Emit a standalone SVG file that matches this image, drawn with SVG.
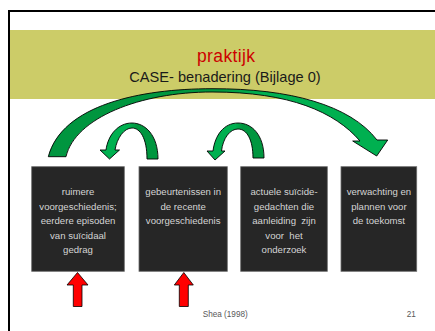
<svg xmlns="http://www.w3.org/2000/svg" width="435" height="331" viewBox="0 0 435 331">
<defs>
<style>
.frame{fill:none;stroke:#000;stroke-width:2}
.band{fill:#cccc68}
.box{fill:#262626;stroke:#6b6b6b;stroke-width:0.8}
.bt{font-family:"Liberation Sans",Arial,sans-serif;font-size:9.6px;fill:#d4d4d4;text-anchor:middle;white-space:pre}
.title{font-family:"Liberation Sans",Arial,sans-serif;text-anchor:middle}
.foot{font-family:"Liberation Sans",Arial,sans-serif;font-size:8.2px;fill:#595959}
.green{stroke:#000;stroke-width:0.9;stroke-linejoin:miter}
.red{fill:#ff0000;stroke:#000;stroke-width:0.8}
</style>
<linearGradient id="gBig" gradientUnits="userSpaceOnUse" x1="48" y1="0" x2="388" y2="0">
<stop offset="0" stop-color="#00953f"/>
<stop offset="0.5" stop-color="#00983f"/>
<stop offset="0.62" stop-color="#00b050"/>
<stop offset="1" stop-color="#00b050"/>
</linearGradient>
<linearGradient id="gS1" gradientUnits="userSpaceOnUse" x1="100" y1="0" x2="158" y2="0">
<stop offset="0" stop-color="#00b050"/>
<stop offset="0.5" stop-color="#00b050"/>
<stop offset="0.62" stop-color="#00963f"/>
<stop offset="1" stop-color="#00963f"/>
</linearGradient>
<linearGradient id="gS2" gradientUnits="userSpaceOnUse" x1="207" y1="0" x2="264" y2="0">
<stop offset="0" stop-color="#00b050"/>
<stop offset="0.5" stop-color="#00b050"/>
<stop offset="0.62" stop-color="#00963f"/>
<stop offset="1" stop-color="#00963f"/>
</linearGradient>
</defs>

<rect class="frame" x="9" y="11" width="440" height="340"/>
<rect class="band" x="10" y="30" width="425" height="69"/>
<g id="title">
<text class="title" x="226" y="61.7" font-size="17.5" fill="#cc0000" textLength="58" lengthAdjust="spacing">praktijk</text>
<text class="title" x="225" y="82.3" font-size="14.6" fill="#1a1a1a">CASE- benadering (Bijlage 0)</text>
</g>

<g id="connectors">
<path id="arc-big" class="green" fill="url(#gBig)" d="M48.3,156.7 C62,105 140,88.7 212,88.7 C290,88.5 350,105 377,140 L387.7,140 L376.7,156 L352.7,141 L360,141 C335,112 290,92 212,92 C140,92 75,118 66,156.7 Z"/>
<path id="arc-small-1" class="green" fill="url(#gS1)" d="M158,159 C158,135 145,123 132,123 C118,123 108,135 106,150 L100,150 L109.5,159 L119.5,150 L115,150 C117,138 124,128 132,128 C140,128 147,138 147,159 Z"/>
<path id="arc-small-2" class="green" fill="url(#gS2)" d="M264,158 C264,135 252,123 238,123 C224,123 215,135 213,151 L207,151 L215,160 L225,151 L221.5,151 C223,138 230,129 238,129 C247,129 253,140 253,158 Z"/>
<polygon id="red-1" class="red" points="77.5,272.5 88,285 82,285 82,306.5 73.3,306.5 73.3,285 67,285"/>
<polygon id="red-2" class="red" points="183.8,272.5 193.3,285 188.3,285 188.3,306.5 179.3,306.5 179.3,285 174.3,285"/>
</g>

<g id="box1">
<rect class="box" x="31.7" y="166.7" width="92.6" height="104.6"/>
<text class="bt" x="78" y="195">ruimere</text>
<text class="bt" x="78" y="209.5">voorgeschiedenis;</text>
<text class="bt" x="78" y="224">eerdere episoden</text>
<text class="bt" x="78" y="238.5">van suïcidaal</text>
<text class="bt" x="78" y="253">gedrag</text>
</g>
<g id="box2">
<rect class="box" x="139" y="166.7" width="88.3" height="104.6"/>
<text class="bt" x="183.2" y="195">gebeurtenissen in</text>
<text class="bt" x="183.2" y="209.5">de recente</text>
<text class="bt" x="183.2" y="224">voorgeschiedenis</text>
</g>
<g id="box3">
<rect class="box" x="240.7" y="166.7" width="86.6" height="104.6"/>
<text class="bt" x="284" y="195">actuele suïcide-</text>
<text class="bt" x="284" y="209.5">gedachten die</text>
<text class="bt" x="284" y="224">aanleiding  zijn</text>
<text class="bt" x="284" y="238.5">voor  het</text>
<text class="bt" x="284" y="253">onderzoek</text>
</g>
<g id="box4">
<rect class="box" x="341" y="166.7" width="75.7" height="104.6"/>
<text class="bt" x="378.9" y="195">verwachting en</text>
<text class="bt" x="378.9" y="209.5">plannen voor</text>
<text class="bt" x="378.9" y="224">de toekomst</text>
</g>

<g id="footer">
<text class="foot" x="202.7" y="316.7">Shea (1998)</text>
<text class="foot" x="406.7" y="316.7">21</text>
</g>
</svg>
